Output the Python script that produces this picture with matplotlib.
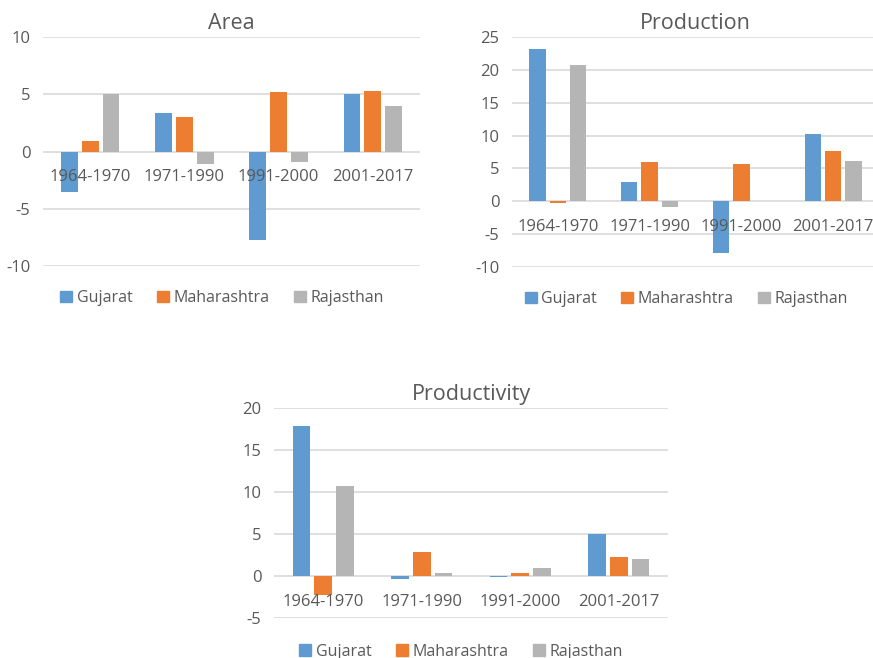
import numpy as np
import matplotlib
matplotlib.use("Agg")
import matplotlib.pyplot as plt
from matplotlib.patches import Patch

plt.rcParams["font.family"] = ["Open Sans", "DejaVu Sans"]
plt.rcParams["axes.unicode_minus"] = False

periods = ["1964-1970", "1971-1990", "1991-2000", "2001-2017"]
states = ["Gujarat", "Maharashtra", "Rajasthan"]
colors = ["#5F9BD0", "#ED7D31", "#B5B5B5"]

area_gujarat = [-3.5, 3.4, -7.7, 5.0]
area_maharashtra = [0.9, 3.0, 5.2, 5.3]
area_rajasthan = [5.0, -1.1, -0.9, 4.0]

prod_gujarat = [23.1, 3.0, -7.9, 10.3]
prod_maharashtra = [-0.25, 6.0, 5.6, 7.6]
prod_rajasthan = [20.8, -0.85, 0.0, 6.1]

yield_gujarat = [17.9, -0.4, -0.15, 5.05]
yield_maharashtra = [-2.3, 2.85, 0.4, 2.25]
yield_rajasthan = [10.7, 0.3, 1.0, 2.05]

W, H = 873, 658
fig = plt.figure(figsize=(W / 100, H / 100), dpi=100)
txt = "#595959"


def px_axes(x0, x1, ytop, ybot):
    return fig.add_axes([x0 / W, 1 - ybot / H, (x1 - x0) / W, (ybot - ytop) / H])


def panel(ax, title, series, ymin, ymax, leg_y):
    x = np.arange(len(periods))
    for k, vals in enumerate(series):
        ax.bar(x + (k - 1) * 0.222, vals, width=0.178, color=colors[k], zorder=3)
    ax.set_xlim(-0.5, 3.5)
    ax.set_ylim(ymin, ymax)
    ax.set_yticks(np.arange(ymin, ymax + 1, 5))
    ax.yaxis.grid(True, color="#D9D9D9", linewidth=1.2, zorder=0)
    ax.set_xticks([])
    for s in ax.spines.values():
        s.set_visible(False)
    ax.tick_params(axis="y", length=0, labelsize=12, labelcolor=txt, pad=9)
    for i, p in enumerate(periods):
        ax.annotate(p, (i, 0), xytext=(0, -18.5), textcoords="offset points",
                    ha="center", va="center", fontsize=12, color=txt, zorder=5)
    ax.set_title(title, fontsize=15.5, color=txt, pad=6)
    handles = [Patch(color=c) for c in colors]
    ax.legend(handles, states, loc="center", bbox_to_anchor=(0.475, leg_y), ncol=3,
              frameon=False, fontsize=11.5, labelcolor=txt, handlelength=0.75,
              handleheight=0.75, handletextpad=0.3, columnspacing=1.5)


ax1 = px_axes(43, 420, 37, 266)
panel(ax1, "Area", [area_gujarat, area_maharashtra, area_rajasthan], -10, 10, -0.14)

ax2 = px_axes(512, 879, 37, 267)
panel(ax2, "Production", [prod_gujarat, prod_maharashtra, prod_rajasthan], -10, 25, -0.14)

ax3 = px_axes(274, 668, 408, 618)
panel(ax3, "Productivity", [yield_gujarat, yield_maharashtra, yield_rajasthan], -5, 20, -0.16)

fig.savefig("out.png", dpi=100, facecolor="white")
